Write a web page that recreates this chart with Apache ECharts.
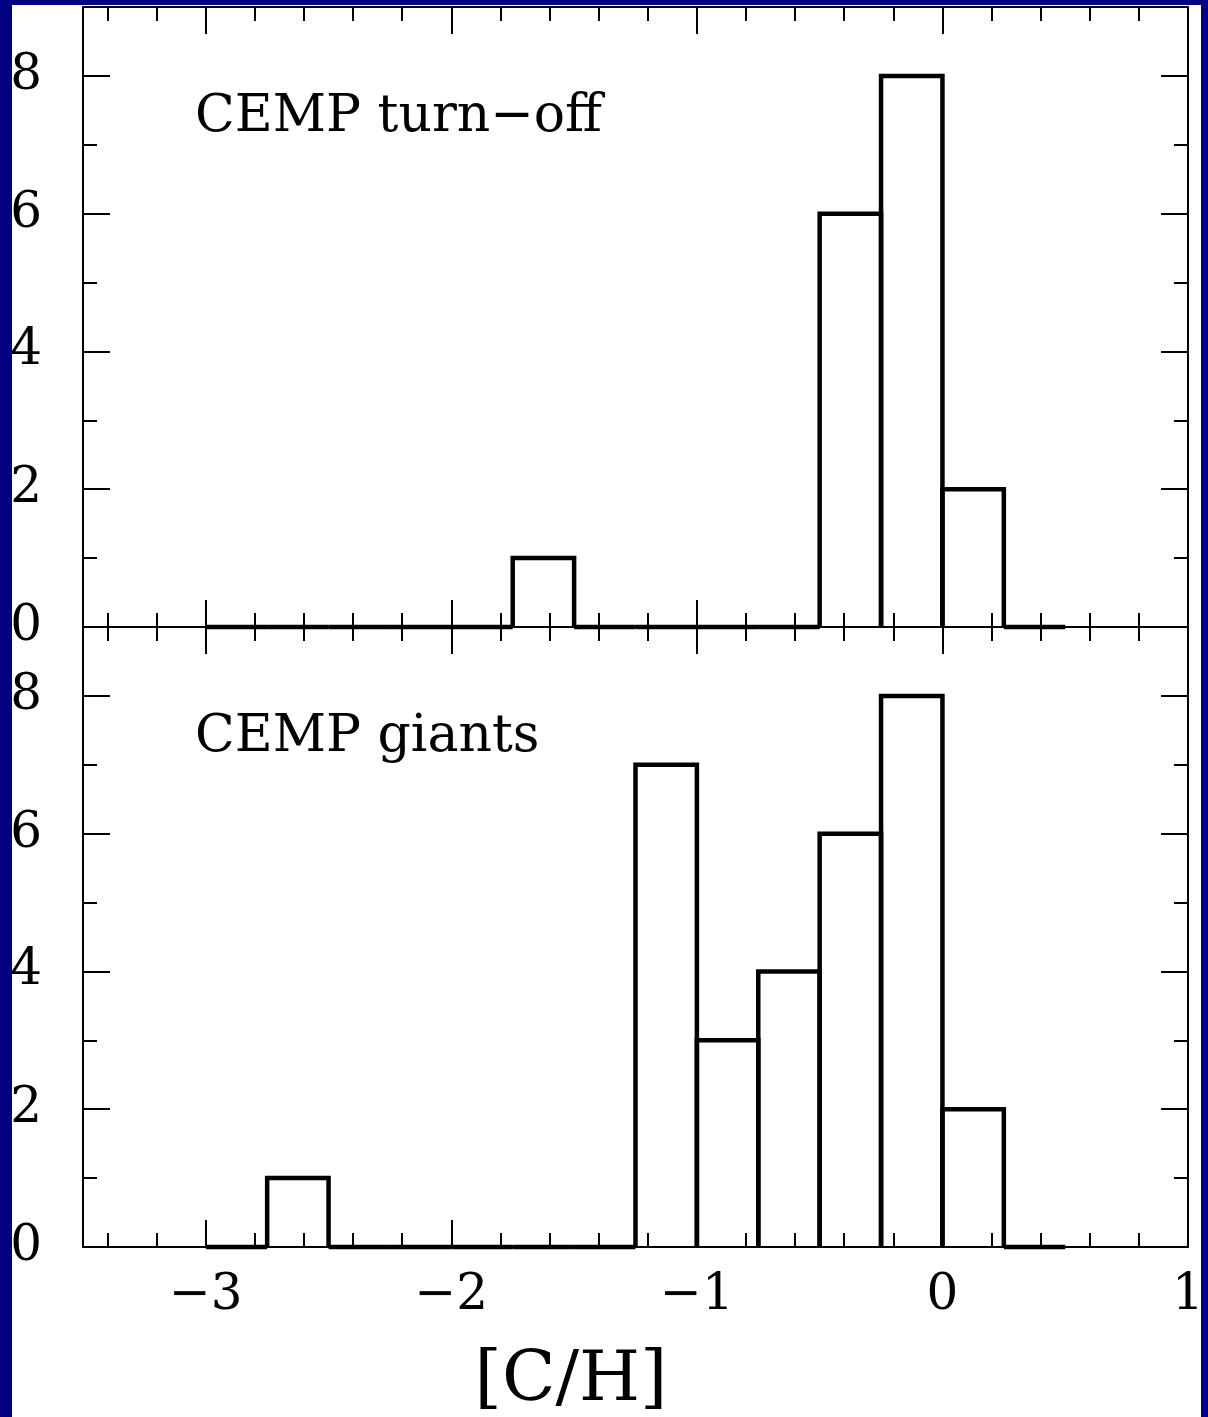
<!DOCTYPE html>
<html>
<head>
<meta charset="utf-8">
<script src="https://cdn.jsdelivr.net/npm/echarts@6/dist/echarts.min.js"></script>
<style>
html,body{margin:0;padding:0;background:#000080;}
#chart{position:absolute;left:0;top:0;width:1208px;height:1417px;}
</style>
</head>
<body>
<div id="chart"></div>
<script>
// ---- data ----
const binStart = [-3.0, -2.75, -2.5, -2.25, -2.0, -1.75, -1.5, -1.25, -1.0, -0.75, -0.5, -0.25, 0.0, 0.25];
const binWidth = 0.25;
const turnoffCounts = [0, 0, 0, 0, 0, 1, 0, 0, 0, 0, 6, 8, 2, 0];
const giantCounts   = [0, 1, 0, 0, 0, 0, 0, 7, 3, 4, 6, 8, 2, 0];
const xMajorTicks = [-3, -2, -1, 0, 1];
const xMinorTicks = [-3.4, -3.2, -2.8, -2.6, -2.4, -2.2, -1.8, -1.6, -1.4, -1.2, -0.8, -0.6, -0.4, -0.2, 0.2, 0.4, 0.6, 0.8];
const yMajorTicks = [0, 2, 4, 6, 8];
const yMinorTicks = [1, 3, 5, 7];
const panelLabels = ['CEMP turn\u2212off', 'CEMP giants'];
const xTitle = '[C/H]';

const FONT = '"DejaVu Serif", "Liberation Serif", serif';
const BLACK = '#000';

function fmt(v) { return v < 0 ? '\u2212' + Math.abs(v) : String(v); }

const grids = [
  { left: 83, top: 7, width: 1105, height: 620 },
  { left: 83, top: 627, width: 1105, height: 620 }
];

const xAxis = [];
const yAxis = [];
grids.forEach((g, gi) => {
  const showLab = gi === 1;
  ['bottom', 'top'].forEach(pos => {
    xAxis.push({
      type: 'value', gridIndex: gi, position: pos, min: -3.5, max: 1,
      axisLine: { show: true, onZero: false, lineStyle: { color: BLACK, width: 2 } },
      axisTick: { show: true, inside: true, length: 27, customValues: xMajorTicks, lineStyle: { color: BLACK, width: 2 } },
      axisLabel: { show: showLab && pos === 'bottom', customValues: xMajorTicks, formatter: fmt,
        fontFamily: FONT, fontSize: 50, color: BLACK, margin: 24 },
      splitLine: { show: false }
    });
    xAxis.push({
      type: 'value', gridIndex: gi, position: pos, min: -3.5, max: 1,
      axisLine: { show: false, onZero: false },
      axisTick: { show: true, inside: true, length: 14, customValues: xMinorTicks, lineStyle: { color: BLACK, width: 2 } },
      axisLabel: { show: false },
      splitLine: { show: false }
    });
  });
  ['left', 'right'].forEach(pos => {
    yAxis.push({
      type: 'value', gridIndex: gi, position: pos, min: 0, max: 9,
      axisLine: { show: true, onZero: false, lineStyle: { color: BLACK, width: 2 } },
      axisTick: { show: true, inside: true, length: 27, customValues: yMajorTicks, lineStyle: { color: BLACK, width: 2 } },
      axisLabel: { show: pos === 'left', customValues: yMajorTicks, fontFamily: FONT, fontSize: 50, color: BLACK, margin: 41 },
      splitLine: { show: false }
    });
    yAxis.push({
      type: 'value', gridIndex: gi, position: pos, min: 0, max: 9,
      axisLine: { show: false, onZero: false },
      axisTick: { show: true, inside: true, length: 14, customValues: yMinorTicks, lineStyle: { color: BLACK, width: 2 } },
      axisLabel: { show: false },
      splitLine: { show: false }
    });
  });
});

function renderStep(params, api) {
  const x0 = api.value(0), x1 = api.value(1), h = api.value(2);
  const pts = [api.coord([x0, 0]), api.coord([x0, h]), api.coord([x1, h]), api.coord([x1, 0])];
  return {
    type: 'polyline',
    shape: { points: pts },
    style: { stroke: BLACK, lineWidth: 4.5, fill: null, lineJoin: 'miter' }
  };
}

function histData(counts) {
  return binStart.map((x, i) => [x, x + binWidth, counts[i]]);
}

const series = [
  { type: 'custom', xAxisIndex: 0, yAxisIndex: 0, renderItem: renderStep, data: histData(turnoffCounts),
    encode: { x: [0, 1], y: 2 }, clip: false, silent: true, z: 5 },
  { type: 'custom', xAxisIndex: 4, yAxisIndex: 4, renderItem: renderStep, data: histData(giantCounts),
    encode: { x: [0, 1], y: 2 }, clip: false, silent: true, z: 5 }
];

const chart = echarts.init(document.getElementById('chart'), null, { renderer: 'canvas' });
chart.setOption({
  backgroundColor: 'transparent',
  animation: false,
  grid: grids,
  xAxis: xAxis,
  yAxis: yAxis,
  series: series,
  graphic: [
    { type: 'rect', z: -100, silent: true, shape: { x: 12, y: 5, width: 1189, height: 1412 }, style: { fill: '#fff' } },
    { type: 'text', x: 195, y: 91, silent: true, style: { text: panelLabels[0], font: '52px ' + FONT, fill: BLACK, textVerticalAlign: 'top' } },
    { type: 'text', x: 195, y: 711, silent: true, style: { text: panelLabels[1], font: '52px ' + FONT, fill: BLACK, textVerticalAlign: 'top' } },
    { type: 'text', x: 571, y: 1347, silent: true, style: { text: xTitle, font: '70px ' + FONT, fill: BLACK, textAlign: 'center', textVerticalAlign: 'top' } },
    { type: 'rect', z: 100, silent: true, shape: { x: 1201, y: 0, width: 7, height: 1417 }, style: { fill: '#000080' } },
    { type: 'rect', z: 100, silent: true, shape: { x: 0, y: 0, width: 12, height: 1417 }, style: { fill: '#000080' } }
  ]
});
</script>
</body>
</html>
